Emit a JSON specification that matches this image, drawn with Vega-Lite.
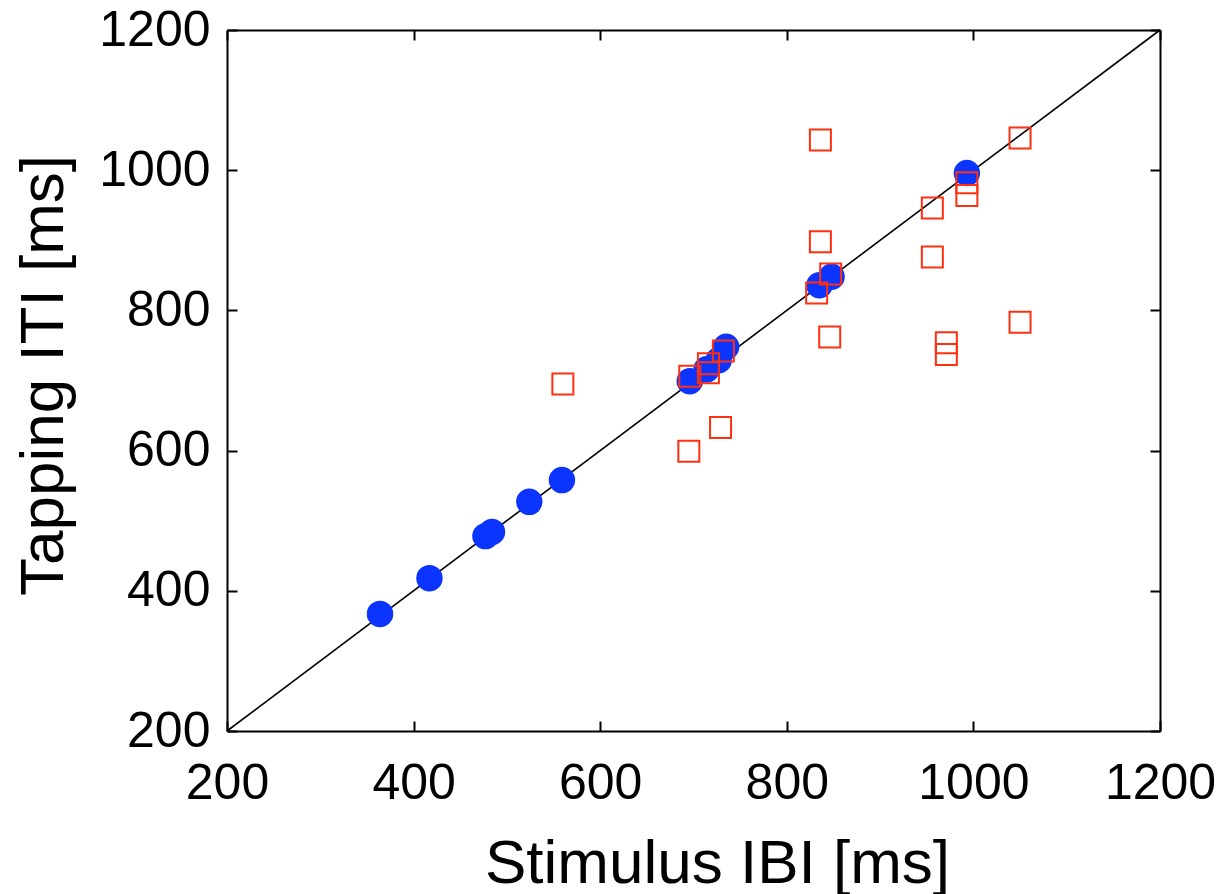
{
  "$schema": "https://vega.github.io/schema/vega-lite/v6.json",
  "width": 933,
  "height": 701,
  "autosize": {"type": "none"},
  "padding": {"left": 227, "top": 30, "right": 62, "bottom": 163},
  "background": "white",
  "config": {
    "view": {"stroke": null},
    "axis": {
      "domainColor": "black",
      "domainWidth": 2,
      "tickColor": "black",
      "tickWidth": 2,
      "tickSize": -10,
      "grid": false,
      "labelFont": "Liberation Sans",
      "labelFontSize": 50,
      "labelColor": "black",
      "format": "d",
      "titleFont": "Liberation Sans",
      "titleFontSize": 62,
      "titleFontWeight": "normal",
      "titleColor": "black"
    }
  },
  "datasets": {
    "diag": [{"x": 200, "y": 200, "x2": 1200, "y2": 1200}],
    "pts": [
      {"x": 364, "y": 367, "type": "circle"},
      {"x": 417, "y": 418, "type": "circle"},
      {"x": 477, "y": 478, "type": "circle"},
      {"x": 484, "y": 484, "type": "circle"},
      {"x": 524, "y": 527, "type": "circle"},
      {"x": 559, "y": 558, "type": "circle"},
      {"x": 696, "y": 699, "type": "circle"},
      {"x": 714, "y": 716, "type": "circle"},
      {"x": 727, "y": 729, "type": "circle"},
      {"x": 735, "y": 748, "type": "circle"},
      {"x": 835, "y": 836, "type": "circle"},
      {"x": 848, "y": 848, "type": "circle"},
      {"x": 993, "y": 996, "type": "circle"},
      {"x": 696, "y": 706, "type": "square"},
      {"x": 716, "y": 724, "type": "square"},
      {"x": 716, "y": 711, "type": "square"},
      {"x": 732, "y": 742, "type": "square"},
      {"x": 729, "y": 633, "type": "square"},
      {"x": 836, "y": 898, "type": "square"},
      {"x": 847, "y": 852, "type": "square"},
      {"x": 832, "y": 825, "type": "square"},
      {"x": 846, "y": 762, "type": "square"},
      {"x": 836, "y": 1043, "type": "square"},
      {"x": 993, "y": 982, "type": "square"},
      {"x": 993, "y": 964, "type": "square"},
      {"x": 1050, "y": 1046, "type": "square"},
      {"x": 956, "y": 946, "type": "square"},
      {"x": 956, "y": 876, "type": "square"},
      {"x": 1050, "y": 783, "type": "square"},
      {"x": 971, "y": 754, "type": "square"},
      {"x": 971, "y": 737, "type": "square"},
      {"x": 560, "y": 695, "type": "square"},
      {"x": 695, "y": 599, "type": "square"}
    ]
  },
  "resolve": {"axis": {"x": "independent", "y": "independent"}},
  "layer": [
    {
      "data": {"name": "diag"},
      "mark": {"type": "rule", "color": "black", "strokeWidth": 1.6},
      "encoding": {
        "x": {"field": "x", "type": "quantitative", "scale": {"domain": [200, 1200], "nice": false, "zero": false},
              "axis": {"orient": "bottom", "title": "Stimulus IBI [ms]", "values": [200, 400, 600, 800, 1000, 1200], "labelPadding": 37, "labelFlush": false, "titleX": 490, "titleY": 151, "titleBaseline": "alphabetic", "titleAlign": "center"}},
        "y": {"field": "y", "type": "quantitative", "scale": {"domain": [200, 1200], "nice": false, "zero": false},
              "axis": {"orient": "left", "title": "Tapping ITI [ms]", "values": [200, 400, 600, 800, 1000, 1200], "labelPadding": 27, "labelFlush": false, "titleX": -165, "titleY": 345, "titleBaseline": "alphabetic", "titleAlign": "center", "titleAngle": -90}},
        "x2": {"field": "x2"},
        "y2": {"field": "y2"}
      }
    },
    {
      "data": {"name": "pts"},
      "transform": [{"filter": "datum.type === 'circle'"}],
      "mark": {"type": "point", "shape": "circle", "filled": true, "size": 700, "color": "#0b35ff", "opacity": 1},
      "encoding": {
        "x": {"field": "x", "type": "quantitative",
              "axis": {"orient": "top", "title": null, "labels": false, "values": [200, 400, 600, 800, 1000, 1200]}},
        "y": {"field": "y", "type": "quantitative",
              "axis": {"orient": "right", "title": null, "labels": false, "values": [200, 400, 600, 800, 1000, 1200]}}
      }
    },
    {
      "data": {"name": "pts"},
      "transform": [{"filter": "datum.type === 'square'"}],
      "mark": {"type": "point", "shape": "square", "filled": false, "size": 441, "color": "#ff3010", "strokeWidth": 2, "opacity": 1},
      "encoding": {
        "x": {"field": "x", "type": "quantitative", "axis": null},
        "y": {"field": "y", "type": "quantitative", "axis": null}
      }
    }
  ]
}
